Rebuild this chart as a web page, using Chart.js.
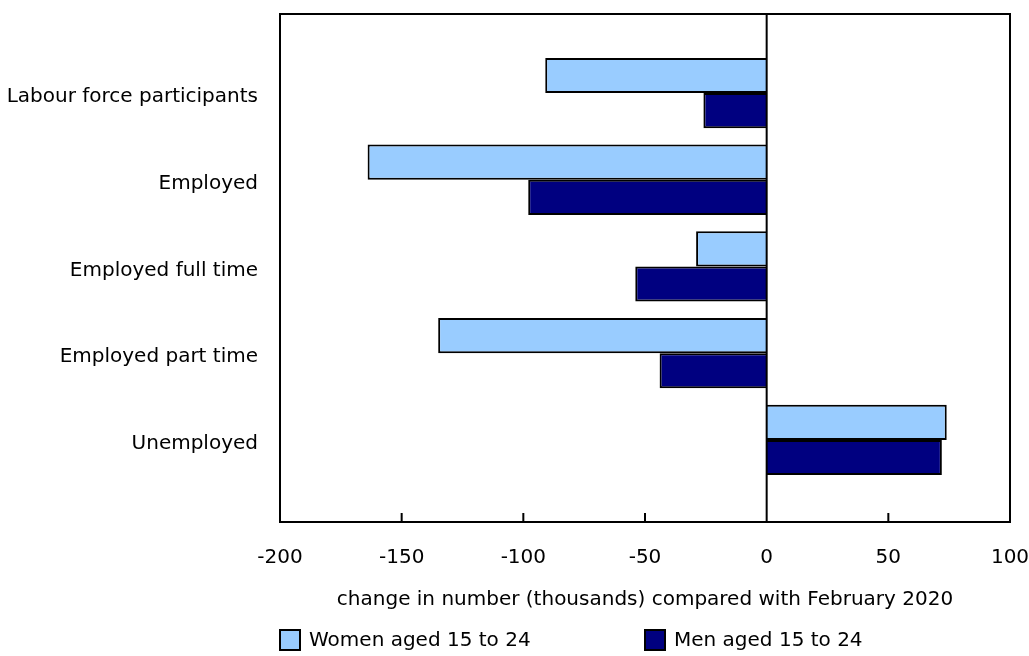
<!DOCTYPE html>
<html>
  <head>
    <script src="https://cdn.jsdelivr.net/npm/chart.js@4"></script>
    <style>
      html, body { margin: 0; padding: 0; background: #fff; }
      #wrap { width: 1029px; height: 656px; }
    </style>
  </head>

  <body>
    <div id="wrap">
      <canvas id="canvas"></canvas>
    </div>
    <script>
      const categories = [
        'Labour force participants',
        'Employed',
        'Employed full time',
        'Employed part time',
        'Unemployed',
      ];
      const women = [-91, -164, -29, -135, 74];
      const men = [-26, -98, -54, -44, 72];
      const xTicks = [-200, -150, -100, -50, 0, 50, 100];

      const font = 'DejaVu Sans, Verdana, sans-serif';

      // frame round the plot, zero line and short tick marks pointing up from the bottom
      const framePlugin = {
        id: 'frame',
        afterDatasetsDraw(chart) {
          const { ctx, chartArea: a, scales } = chart;
          ctx.save();
          ctx.strokeStyle = '#000';
          ctx.lineWidth = 2;
          ctx.strokeRect(a.left, a.top, a.right - a.left, a.bottom - a.top);
          ctx.beginPath();
          const x0 = scales.x.getPixelForValue(0);
          ctx.moveTo(x0, a.top);
          ctx.lineTo(x0, a.bottom);
          xTicks.forEach((v) => {
            const x = scales.x.getPixelForValue(v);
            ctx.moveTo(x, a.bottom);
            ctx.lineTo(x, a.bottom - 9);
          });
          ctx.stroke();
          ctx.restore();
        },
      };

      // legend in two columns: one under the left edge of the plot, one under its middle
      const legendPlugin = {
        id: 'twoColLegend',
        afterDraw(chart) {
          const { ctx, chartArea: a } = chart;
          const cols = [a.left, (a.left + a.right) / 2];
          const y = chart.height - 16;
          ctx.save();
          ctx.font = '20px ' + font;
          ctx.textBaseline = 'middle';
          chart.data.datasets.forEach((ds, i) => {
            const x = cols[i];
            ctx.fillStyle = ds.backgroundColor;
            ctx.fillRect(x, y - 10, 20, 20);
            ctx.strokeStyle = '#000';
            ctx.lineWidth = 2;
            ctx.strokeRect(x, y - 10, 20, 20);
            ctx.fillStyle = '#000';
            ctx.fillText(ds.label, x + 29, y + 1);
          });
          ctx.restore();
        },
      };

      const chart = new Chart(document.getElementById('canvas').getContext('2d'), {
        type: 'bar',
        data: {
          datasets: [
            {
              label: 'Women aged 15 to 24',
              data: women.map((v, i) => ({ x: v, y: i })),
              backgroundColor: '#99ccff',
              borderColor: '#000',
              borderWidth: 2,
            },
            {
              label: 'Men aged 15 to 24',
              data: men.map((v, i) => ({ x: v, y: i })),
              backgroundColor: '#000080',
              borderColor: '#000',
              borderWidth: 2,
            },
          ],
        },
        plugins: [framePlugin, legendPlugin],
        options: {
          indexAxis: 'y',
          responsive: true,
          maintainAspectRatio: false,
          animation: false,
          categoryPercentage: 0.81,
          barPercentage: 1,
          layout: { padding: { top: 14, right: 19, left: 0, bottom: 44 } },
          scales: {
            x: {
              type: 'linear',
              min: -200,
              max: 100,
              afterBuildTicks: (s) => { s.ticks = xTicks.map((v) => ({ value: v })); },
              afterFit: (s) => { s.height = 90; s.paddingLeft = 0; s.paddingRight = 0; },
              grid: { display: false, drawTicks: false },
              border: { display: false },
              ticks: { color: '#000', font: { family: font, size: 20 }, padding: 24, maxRotation: 0 },
              title: {
                display: true,
                text: 'change in number (thousands) compared with February 2020',
                color: '#000',
                font: { family: font, size: 20 },
                padding: { top: 18, bottom: 0 },
              },
            },
            y: {
              type: 'linear',
              reverse: true,
              offset: false,
              min: -0.911,
              max: 4.946,
              afterBuildTicks: (s) => { s.ticks = categories.map((c, i) => ({ value: i })); },
              afterFit: (s) => { s.width = 280; s.paddingTop = 0; s.paddingBottom = 0; },
              grid: { display: false, drawTicks: false },
              border: { display: false },
              ticks: {
                color: '#000',
                font: { family: font, size: 20 },
                padding: 22,
                labelOffset: 4,
                callback: (v) => categories[v],
              },
            },
          },
          plugins: {
            legend: { display: false },
            tooltip: { enabled: false },
          },
        },
      });
    </script>
  </body>
</html>
